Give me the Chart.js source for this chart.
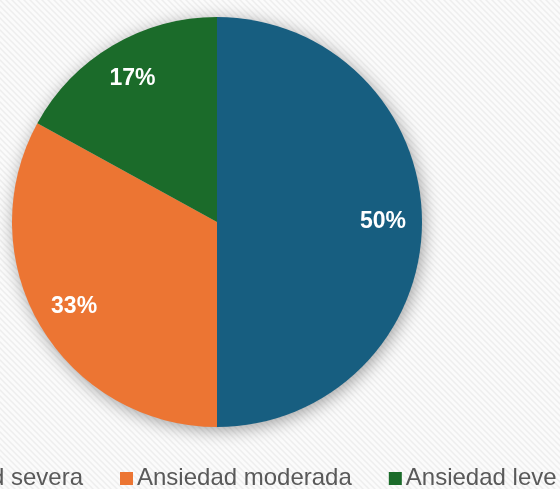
<!DOCTYPE html>
<html>
<head>
<meta charset="utf-8">
<script src="https://cdn.jsdelivr.net/npm/chart.js@4.4.0/dist/chart.umd.min.js"></script>
<style>
    html, body { margin: 0; padding: 0; background: #ffffff; }
    #wrap { position: relative; width: 560px; height: 489px; overflow: hidden; }
</style>
</head>
<body>
<div id="wrap"><canvas id="pieChart" width="560" height="489"></canvas></div>
<script>
const categorias = ["Ansiedad severa", "Ansiedad moderada", "Ansiedad leve"];
const valores = [50, 33, 17];
const etiquetas = ["50%", "33%", "17%"];
const colores = ["#175e80", "#ec7533", "#1b6b2a"];

// fondo con rayas diagonales suaves
const fondoPlugin = {
    id: "fondo",
    beforeDraw(chart) {
        const ctx = chart.ctx;
        const p = document.createElement("canvas");
        p.width = 6;
        p.height = 6;
        const pc = p.getContext("2d");
        pc.fillStyle = "#fbfbfb";
        pc.fillRect(0, 0, 6, 6);
        pc.strokeStyle = "#eeeeee";
        pc.lineWidth = 1.5;
        pc.beginPath();
        pc.moveTo(0, 0);
        pc.lineTo(6, 6);
        pc.moveTo(-3, 3);
        pc.lineTo(3, 9);
        pc.moveTo(3, -3);
        pc.lineTo(9, 3);
        pc.stroke();
        ctx.save();
        ctx.fillStyle = ctx.createPattern(p, "repeat");
        ctx.fillRect(0, 0, chart.width, chart.height);
        ctx.restore();
    }
};

// sombra alrededor del círculo
const sombraPlugin = {
    id: "sombra",
    beforeDatasetsDraw(chart) {
        const arc = chart.getDatasetMeta(0).data[0];
        if (!arc) return;
        const ctx = chart.ctx;
        ctx.save();
        ctx.shadowColor = "rgba(0, 0, 0, 0.4)";
        ctx.shadowBlur = 18;
        ctx.shadowOffsetX = 2;
        ctx.shadowOffsetY = 3;
        ctx.fillStyle = "#cccccc";
        ctx.beginPath();
        ctx.arc(arc.x, arc.y, arc.outerRadius - 1, 0, Math.PI * 2);
        ctx.fill();
        ctx.restore();
    }
};

// porcentajes dentro de cada sector
const etiquetasPlugin = {
    id: "etiquetas",
    afterDatasetsDraw(chart) {
        const ctx = chart.ctx;
        const meta = chart.getDatasetMeta(0);
        ctx.save();
        ctx.fillStyle = "#ffffff";
        ctx.font = "bold 23px 'Liberation Sans', Arial, sans-serif";
        ctx.textAlign = "center";
        ctx.textBaseline = "middle";
        meta.data.forEach((arc, i) => {
            const medio = (arc.startAngle + arc.endAngle) / 2;
            const r = arc.outerRadius * 0.81;
            ctx.fillText(etiquetas[i], arc.x + Math.cos(medio) * r, arc.y + Math.sin(medio) * r);
        });
        ctx.restore();
    }
};

// leyenda abajo (se corta a la izquierda como en la imagen)
const leyendaPlugin = {
    id: "leyenda",
    afterDraw(chart) {
        const ctx = chart.ctx;
        ctx.save();
        ctx.font = "24px 'Liberation Sans', Arial, sans-serif";
        ctx.textBaseline = "alphabetic";
        const caja = 13;
        const sep = 4;
        const hueco = 37;
        const anchos = categorias.map(c => ctx.measureText(c).width);
        // la caja de "moderada" queda en x = 120
        let x = 120 - hueco - anchos[0] - sep - caja;
        categorias.forEach((c, i) => {
            ctx.fillStyle = colores[i];
            ctx.fillRect(x, 472, caja, caja);
            ctx.fillStyle = "#595959";
            ctx.fillText(c, x + caja + sep, 485);
            x += caja + sep + anchos[i] + hueco;
        });
        ctx.restore();
    }
};

const ctx = document.getElementById("pieChart").getContext("2d");

new Chart(ctx, {
    type: "pie",
    data: {
        labels: categorias,
        datasets: [
            {
                data: valores,
                backgroundColor: colores,
                borderWidth: 0,
                hoverOffset: 0,
            },
        ],
    },
    options: {
        responsive: false,
        animation: false,
        layout: {
            padding: { top: 17, bottom: 62, left: 12, right: 138 },
        },
        plugins: {
            legend: { display: false },
            tooltip: { enabled: false },
        },
    },
    plugins: [fondoPlugin, sombraPlugin, etiquetasPlugin, leyendaPlugin],
});
</script>
</body>
</html>
